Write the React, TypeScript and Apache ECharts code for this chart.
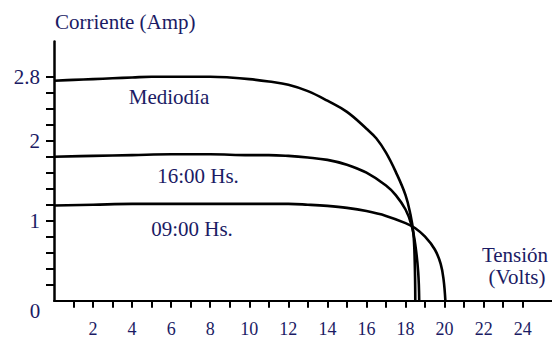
import { useEffect, useRef } from "react";
import * as echarts from "echarts";

// [Tensión (V), Corriente (A)]
const MEDIODIA: number[][] = [
  [0, 2.75], [1, 2.76], [2, 2.77], [3, 2.78], [4, 2.79], [5, 2.8], [6, 2.8], [7, 2.8],
  [8, 2.8], [9, 2.79], [10, 2.77], [11, 2.74], [12, 2.7], [13, 2.62], [14, 2.5],
  [15, 2.36], [16, 2.15], [16.5, 2.03], [17, 1.85], [17.5, 1.61], [18, 1.32],
  [18.25, 1.08], [18.4, 0.85], [18.47, 0.5], [18.5, 0],
];
const HS_16: number[][] = [
  [0, 1.8], [2, 1.81], [4, 1.82], [6, 1.83], [8, 1.83], [10, 1.82], [11, 1.82],
  [12, 1.81], [13, 1.79], [14, 1.76], [15, 1.7], [16, 1.6], [17, 1.44], [17.5, 1.32],
  [18, 1.14], [18.3, 0.95], [18.5, 0.7], [18.65, 0.35], [18.7, 0],
];
const HS_09: number[][] = [
  [0, 1.19], [2, 1.2], [4, 1.21], [6, 1.21], [8, 1.21], [10, 1.21], [12, 1.21],
  [13, 1.2], [14, 1.185], [15, 1.16], [16, 1.12], [17, 1.06], [18, 0.97], [18.5, 0.905],
  [19, 0.8], [19.5, 0.64], [19.8, 0.46], [19.95, 0.26], [20.04, 0],
];

const X_TICKS = [1, 2, 3, 4, 5, 6, 7, 8, 9, 10, 11, 12, 13, 14, 15, 16, 17, 18, 19, 20, 21, 22, 23, 24];
const X_LABELS = [2, 4, 6, 8, 10, 12, 14, 16, 18, 20, 22, 24];
const Y_TICKS = [0.2, 0.4, 0.6, 0.8, 1.0, 1.2, 1.4, 1.6, 1.8, 2.0, 2.2, 2.4, 2.6, 2.8];
const Y_LABELS = [1, 2, 2.8];

const NAVY = "#1b1b64";
const SERIF = "Liberation Serif";

export default function App() {
  const ref = useRef<HTMLDivElement>(null);
  useEffect(() => {
    const chart = echarts.init(ref.current!, null, { renderer: "svg" });
    const lineSeries = (name: string, data: number[][]) => ({
      name,
      type: "line",
      data,
      smooth: 0.4,
      showSymbol: false,
      lineStyle: { color: "#000", width: 2.6 },
    });
    const txt = (text: string, x: number, y: number, align = "center") => ({
      type: "text",
      x,
      y,
      style: { text, fontFamily: SERIF, fontSize: 21, fill: NAVY, verticalAlign: "middle", align },
    });
    chart.setOption({
      animation: false,
      backgroundColor: "#fff",
      textStyle: { fontFamily: SERIF },
      grid: { left: 54, right: 0, top: 41.5, bottom: 39.3 },
      xAxis: {
        type: "value",
        min: 0,
        max: 25.5,
        splitLine: { show: false },
        axisLine: { show: true, onZero: false, lineStyle: { color: "#000", width: 2 } },
        axisTick: { show: true, customValues: X_TICKS, length: 7, lineStyle: { color: "#000", width: 2 } },
        axisLabel: {
          customValues: X_LABELS,
          fontFamily: SERIF,
          fontSize: 18,
          color: NAVY,
          margin: 19,
        },
      },
      yAxis: {
        type: "value",
        min: 0,
        max: 3.24,
        splitLine: { show: false },
        axisLine: { show: true, onZero: false, lineStyle: { color: "#000", width: 2.5 } },
        axisTick: { show: true, customValues: Y_TICKS, length: 8, lineStyle: { color: "#000", width: 2 } },
        axisLabel: {
          customValues: Y_LABELS,
          fontFamily: SERIF,
          fontSize: 21,
          color: NAVY,
          margin: 14,
        },
      },
      series: [
        lineSeries("Mediodía", MEDIODIA),
        lineSeries("16:00 Hs.", HS_16),
        lineSeries("09:00 Hs.", HS_09),
      ],
      graphic: [
        txt("Corriente (Amp)", 55, 22, "left"),
        txt("0", 35, 311),
        txt("Mediodía", 169, 97),
        txt("16:00 Hs.", 198, 176),
        txt("09:00 Hs.", 192, 229),
        txt("Tensión", 515, 255),
        txt("(Volts)", 517, 277),
      ],
    });
    return () => chart.dispose();
  }, []);
  return (
    <div
      ref={ref}
      style={{ position: "fixed", left: 0, top: 0, width: 552, height: 340, background: "#fff" }}
    />
  );
}
